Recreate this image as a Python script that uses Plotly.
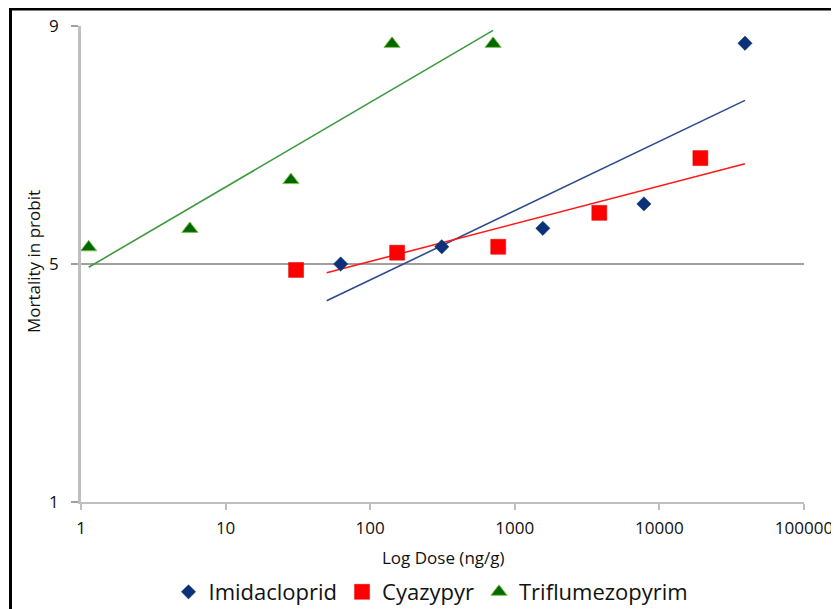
import numpy as np
import plotly.graph_objects as go

# ---- data ----
imid_dose = [62.5, 312.5, 1562.5, 7812.5, 39062.5]
imid_probit = [5.00, 5.29, 5.60, 6.01, 8.71]

cyaz_dose = [30.72, 153.6, 768, 3840, 19200]
cyaz_probit = [4.90, 5.19, 5.29, 5.86, 6.78]

trif_dose = [1.13, 5.66, 28.3, 141.6, 708]
trif_probit = [5.28, 5.59, 6.41, 8.70, 8.70]

# x-extent of the fitted (least-squares, log-dose) trend lines
imid_trend_span = [50, 39062.5]
cyaz_trend_span = [50, 39062.5]
trif_trend_span = [1.13, 708]

x_tickvals = [1, 10, 100, 1000, 10000, 100000]
x_ticktext = ["1", "10", "100", "1000", "10000", "100000"]
y_tickvals = [1, 5, 9]
y_ticktext = ["1", "5", "9"]

series_names = ["Imidacloprid", "Cyazypyr", "Triflumezopyrim"]


def trend(dose, probit, span):
    b, a = np.polyfit(np.log10(dose), probit, 1)
    xs = np.array(span, dtype=float)
    return xs, a + b * np.log10(xs)


FONT = "Open Sans"
TXT = "#111111"
fig = go.Figure()

# trend lines
for dose, pr, span, col in [
    (imid_dose, imid_probit, imid_trend_span, "#2E4A8E"),
    (cyaz_dose, cyaz_probit, cyaz_trend_span, "#FF1A1A"),
    (trif_dose, trif_probit, trif_trend_span, "#3E9A3E"),
]:
    tx, ty = trend(dose, pr, span)
    fig.add_trace(go.Scatter(x=tx, y=ty, mode="lines", showlegend=False,
                             line=dict(color=col, width=1.6), hoverinfo="skip"))

fig.add_trace(go.Scatter(x=imid_dose, y=imid_probit, mode="markers", name=series_names[0],
                         marker=dict(symbol="diamond", size=11, color="#0B3278",
                                     line=dict(color="#0B3278", width=0.5))))
fig.add_trace(go.Scatter(x=cyaz_dose, y=cyaz_probit, mode="markers", name=series_names[1],
                         marker=dict(symbol="square", size=15, color="#FF0000",
                                     line=dict(color="#E00000", width=0.5))))
fig.add_trace(go.Scatter(x=trif_dose, y=trif_probit, mode="markers", name=series_names[2],
                         marker=dict(symbol="triangle-up", size=14, color="#006600",
                                     line=dict(color="#7CC04A", width=1))))

# page body has an 8px default margin; figure is sized/positioned to compensate
OFF = 8
W, H = 839 - OFF, 609 - OFF
L, R, T, B = 81 - OFF, 804 - OFF, 26 - OFF, 502 - OFF
pw, ph = R - L, B - T


def px(xp):
    return (xp - OFF - L) / pw


def py(yp):
    return (B - (yp - OFF)) / ph


fig.update_layout(
    width=W, height=H,
    margin=dict(l=L, r=W - R, t=T, b=H - B, autoexpand=False),
    paper_bgcolor="white", plot_bgcolor="white",
    font=dict(family=FONT, size=18, color=TXT),
    showlegend=True,
    legend=dict(orientation="h", x=px(431), xanchor="center", y=py(592), yanchor="middle",
                font=dict(family=FONT, size=22, color=TXT),
                itemwidth=30, tracegroupgap=0, bgcolor="rgba(0,0,0,0)"),
    xaxis=dict(type="log", range=[0, 5], tickvals=x_tickvals, ticktext=x_ticktext,
               showgrid=False, zeroline=False, showline=True, linecolor="#BFBFBF",
               linewidth=2, ticks="outside", ticklen=6, tickcolor="#BFBFBF", tickwidth=1.5,
               automargin=False, ticklabelstandoff=4,
               tickfont=dict(family=FONT, size=17, color=TXT)),
    yaxis=dict(range=[1, 9], tickvals=y_tickvals, ticktext=y_ticktext,
               showgrid=True, gridcolor="#A0A0A0", gridwidth=1.5, zeroline=False,
               showline=True, linecolor="#BFBFBF", linewidth=2.5,
               ticks="outside", ticklen=7, tickcolor="#A0A0A0", tickwidth=1.5,
               automargin=False, ticklabelstandoff=9,
               tickfont=dict(family=FONT, size=17, color=TXT)),
    annotations=[
        dict(text="Log Dose (ng/g)", xref="paper", yref="paper", x=px(443), y=py(557),
             showarrow=False, xanchor="center", yanchor="middle",
             font=dict(family=FONT, size=17, color=TXT)),
        dict(text="Mortality in probit", xref="paper", yref="paper", x=px(33), y=py(262),
             showarrow=False, xanchor="center", yanchor="middle", textangle=-90,
             font=dict(family=FONT, size=17, color=TXT)),
    ],
    shapes=[
        dict(type="rect", xref="paper", yref="paper", x0=px(10.5), x1=px(860),
             y0=py(640), y1=py(9), line=dict(color="black", width=3), layer="below"),
    ],
)

fig.write_html("out.html")
